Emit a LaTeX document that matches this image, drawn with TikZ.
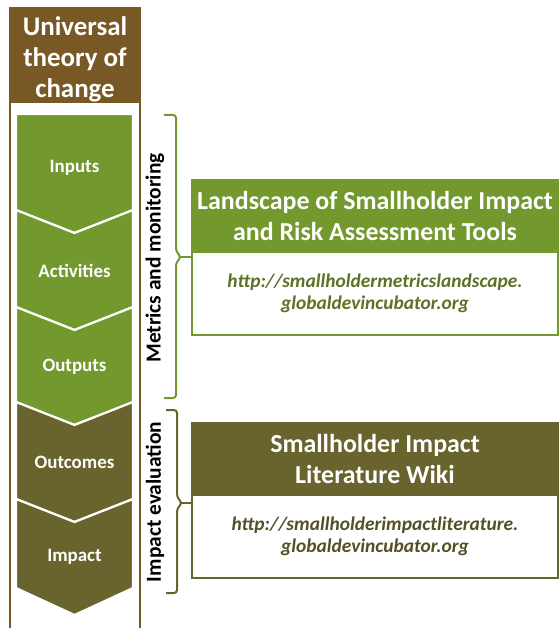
\documentclass[tikz,border=0pt]{standalone}
\usepackage{fontspec}
\setmainfont{Carlito}
\usetikzlibrary{calc, positioning}
\definecolor{headbrown}{RGB}{120,88,36}
\definecolor{leaf}{RGB}{114,152,46}
\definecolor{olive}{RGB}{105,99,45}
\definecolor{leafurl}{RGB}{92,114,38}
\definecolor{oliveurl}{RGB}{84,80,38}

\begin{document}
\begin{tikzpicture}[x=1bp, y=-1bp,
            chevron/.style={draw=white, line width=2.2bp, line join=miter},
            steplabel/.style={text=white, font=\bfseries\fontsize{19}{22}\selectfont},
            sidelabel/.style={rotate=90, text=black, font=\bfseries\fontsize{21.5}{25}\selectfont},
            boxhead/.style={rectangle, text=white, draw, line width=1.8bp, outer sep=0pt, minimum width=366bp, minimum height=72bp, align=center, font=\bfseries\fontsize{26}{32}\selectfont},
            boxbody/.style={rectangle, fill=white, draw, line width=1.8bp, outer sep=0pt, minimum width=366bp, minimum height=83bp, align=center, font=\bfseries\itshape\fontsize{19.5}{21.5}\selectfont},
            bracket/.style={line width=2bp, rounded corners=3bp},
            ]
            \useasboundingbox (0,0) rectangle (560,628);

            %Column
            \fill[headbrown] (10,8) rectangle (140,103);
            \draw[headbrown, line width=2.5bp] (10,628) -- (10,8) -- (140,8) -- (140,628);
            \node[text=white, align=center, font=\bfseries\fontsize{27}{31}\selectfont] (title) at (75,59.5) {Universal\\theory of\\change};

            %Chevrons
            \filldraw[chevron, fill=leaf]  (16,114) -- (133,114) -- (133,210) -- (74.5,233) -- (16,210) -- cycle;
            \filldraw[chevron, fill=leaf]  (16,210) -- (74.5,233) -- (133,210) -- (133,307) -- (74.5,330) -- (16,307) -- cycle;
            \filldraw[chevron, fill=leaf]  (16,307) -- (74.5,330) -- (133,307) -- (133,402) -- (74.5,425) -- (16,402) -- cycle;
            \filldraw[chevron, fill=olive] (16,402) -- (74.5,425) -- (133,402) -- (133,499) -- (74.5,522) -- (16,499) -- cycle;
            \filldraw[chevron, fill=olive] (16,499) -- (74.5,522) -- (133,499) -- (133,588) -- (74.5,615) -- (16,588) -- cycle;

            \node[steplabel] (inputs)     at (74.5,168) {Inputs};
            \node[steplabel] (activities) at (74.5,271) {Activities};
            \node[steplabel] (outputs)    at (74.5,367) {Outputs};
            \node[steplabel] (outcomes)   at (74.5,462) {Outcomes};
            \node[steplabel] (impact)     at (74.5,557) {Impact};

            %Boxes
            \node[boxhead, draw=leaf, fill=leaf] (landscape) at (375,216) {Landscape of Smallholder Impact\\and Risk Assessment Tools};
            \node[boxbody, draw=leaf, text=leafurl, below=0pt of landscape] (landscapeurl) {http://smallholdermetricslandscape.\\globaldevincubator.org};
            \node[boxhead, draw=olive, fill=olive] (wiki) at (375,459) {Smallholder Impact\\Literature Wiki};
            \node[boxbody, draw=olive, text=oliveurl, below=0pt of wiki] (wikiurl) {http://smallholderimpactliterature.\\globaldevincubator.org};

            %Brackets
            \coordinate (mtop) at (164,115);
            \coordinate (mbot) at (164,398);
            \coordinate (mtip) at (landscape.south west |- 0,257);
            \coordinate (itop) at (166,410);
            \coordinate (ibot) at (166,593);
            \coordinate (itip) at (wiki.south west |- 0,503);

            \draw[bracket, leaf]  (mtop) -| (176,251) -- (181,257) -- (176,263) |- (mbot);
            \draw[leaf, line width=2bp] (180,257) -- (mtip);
            \draw[bracket, olive] (itop) -| (177,497) -- (182,503) -- (177,509) |- (ibot);
            \draw[olive, line width=2bp] (181,503) -- (itip);

            \node[sidelabel] (metrics)    at (155,258) {Metrics and monitoring};
            \node[sidelabel] (evaluation) at (155,502) {Impact evaluation};
          \end{tikzpicture}
\end{document}
